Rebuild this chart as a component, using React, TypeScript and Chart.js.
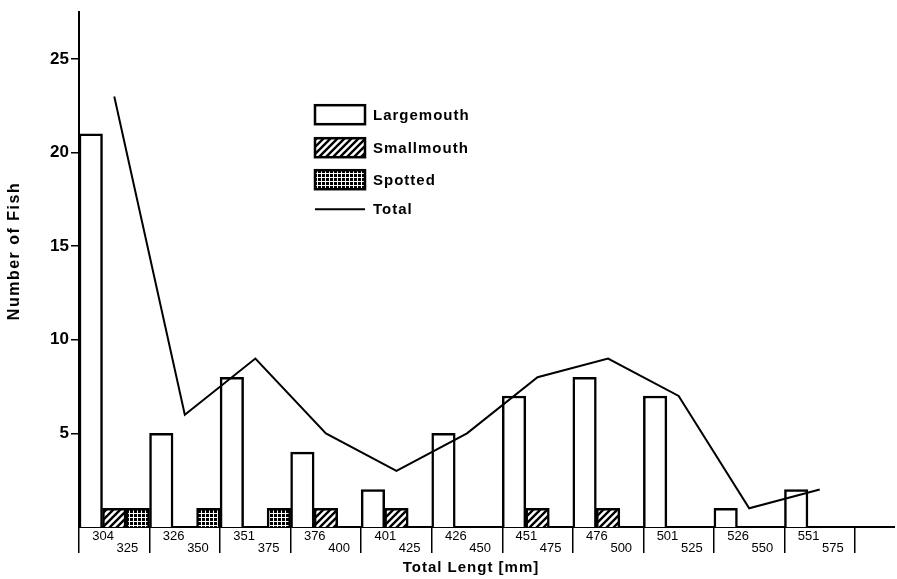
import React, { useEffect, useRef } from 'react';
import { Chart, registerables } from 'chart.js';

Chart.register(...registerables);

const lowerBounds = ['304', '326', '351', '376', '401', '426', '451', '476', '501', '526', '551'];
const upperBounds = ['325', '350', '375', '400', '425', '450', '475', '500', '525', '550', '575'];
const largemouth = [21, 5, 8, 4, 2, 5, 7, 8, 7, 1, 2];
const smallmouth = [1, 0, 0, 1, 1, 0, 1, 1, 0, 0, 0];
const spotted = [1, 1, 1, 0, 0, 0, 0, 0, 0, 0, 0];
const total = [23, 6, 9, 5, 3, 5, 8, 9, 7, 1, 2];
const yTicks = [5, 10, 15, 20, 25];
const seriesNames = ['Largemouth', 'Smallmouth', 'Spotted', 'Total'];
const xTitle = 'Total Lengt [mm]';
const yTitle = 'Number of Fish';

const FONT = '"Liberation Sans", Arial, sans-serif';

function makeHatch(): CanvasPattern {
  const s = 7;
  const c = document.createElement('canvas');
  c.width = s;
  c.height = s;
  const g = c.getContext('2d')!;
  g.fillStyle = '#fff';
  g.fillRect(0, 0, s, s);
  g.strokeStyle = '#000';
  g.lineWidth = 2.4;
  g.beginPath();
  g.moveTo(0, s);
  g.lineTo(s, 0);
  g.moveTo(-2, 2);
  g.lineTo(2, -2);
  g.moveTo(s - 2, s + 2);
  g.lineTo(s + 2, s - 2);
  g.stroke();
  return g.createPattern(c, 'repeat')!;
}

function makeGrid(): CanvasPattern {
  const s = 4;
  const c = document.createElement('canvas');
  c.width = s;
  c.height = s;
  const g = c.getContext('2d')!;
  g.fillStyle = '#000';
  g.fillRect(0, 0, s, s);
  g.fillStyle = '#fff';
  g.fillRect(0, 1, s, 1);
  g.fillRect(1, 0, 1, s);
  return g.createPattern(c, 'repeat')!;
}

export default function App() {
  const ref = useRef<HTMLCanvasElement | null>(null);

  useEffect(() => {
    const canvas = ref.current;
    if (!canvas) return;
    const hatch = makeHatch();
    const grid = makeGrid();
    const fills: (string | CanvasPattern)[] = ['#fff', hatch, grid];

    const decor = {
      id: 'decor',
      afterDraw(chart: any) {
        const ctx: CanvasRenderingContext2D = chart.ctx;
        const xs = chart.scales.x;
        const area = chart.chartArea;
        ctx.save();
        ctx.fillStyle = '#000';
        ctx.strokeStyle = '#000';

        // x axis extension
        ctx.lineWidth = 2;
        ctx.beginPath();
        ctx.moveTo(area.right, area.bottom);
        ctx.lineTo(area.right + 40, area.bottom);
        ctx.stroke();

        // staggered tick labels
        ctx.font = `13px ${FONT}`;
        ctx.textBaseline = 'middle';
        for (let i = 0; i < lowerBounds.length; i++) {
          const cx = xs.getPixelForValue(i);
          ctx.textAlign = 'left';
          ctx.fillText(lowerBounds[i], cx - 22, area.bottom + 9);
          ctx.textAlign = 'right';
          ctx.fillText(upperBounds[i], cx + 24, area.bottom + 21);
        }

        // axis titles
        ctx.font = `bold 15px ${FONT}`;
        (ctx as any).letterSpacing = '1px';
        ctx.textAlign = 'center';
        ctx.fillText(xTitle, (area.left + area.right) / 2 + 4, area.bottom + 41);
        ctx.save();
        ctx.font = `bold 16px ${FONT}`;
        (ctx as any).letterSpacing = '1.5px';
        ctx.translate(15, 251);
        ctx.rotate(-Math.PI / 2);
        ctx.fillText(yTitle, 0, 0);
        ctx.restore();

        // legend
        const lx = area.left + 236;
        const rows = [area.top + 103, area.top + 136, area.top + 168, area.top + 197];
        ctx.font = `bold 15px ${FONT}`;
        ctx.textAlign = 'left';
        ctx.lineWidth = 2.5;
        for (let k = 0; k < 3; k++) {
          ctx.fillStyle = fills[k] as any;
          ctx.fillRect(lx, rows[k] - 10, 50, 19);
          ctx.strokeRect(lx, rows[k] - 10, 50, 19);
        }
        ctx.lineWidth = 2;
        ctx.beginPath();
        ctx.moveTo(lx, rows[3]);
        ctx.lineTo(lx + 50, rows[3]);
        ctx.stroke();
        ctx.fillStyle = '#000';
        for (let k = 0; k < 4; k++) {
          ctx.fillText(seriesNames[k], lx + 58, rows[k] + 1);
        }
        ctx.restore();
      },
    };

    const chart = new Chart(canvas, {
      data: {
        labels: lowerBounds.map((l, i) => [l, upperBounds[i]]),
        datasets: [
          {
            type: 'line',
            label: seriesNames[3],
            data: total,
            borderColor: '#000',
            borderWidth: 2,
            pointRadius: 0,
            tension: 0,
            fill: false,
            order: 0,
          },
          {
            type: 'bar',
            label: seriesNames[0],
            data: largemouth,
            backgroundColor: fills[0] as any,
            borderColor: '#000',
            borderWidth: 2.5,
            order: 1,
          },
          {
            type: 'bar',
            label: seriesNames[1],
            data: smallmouth,
            backgroundColor: fills[1] as any,
            borderColor: '#000',
            borderWidth: 2.5,
            order: 1,
          },
          {
            type: 'bar',
            label: seriesNames[2],
            data: spotted,
            backgroundColor: fills[2] as any,
            borderColor: '#000',
            borderWidth: 2.5,
            order: 1,
          },
        ],
      } as any,
      options: {
        responsive: false,
        animation: false,
        layout: { padding: { top: 10, right: 42, left: 0, bottom: 0 } },
        plugins: { legend: { display: false }, tooltip: { enabled: false } },
        datasets: { bar: { categoryPercentage: 1, barPercentage: 1 } },
        scales: {
          x: {
            type: 'category',
            offset: true,
            grid: {
              offset: true,
              drawOnChartArea: false,
              drawTicks: true,
              tickLength: 26,
              color: '#000',
              lineWidth: 1.5,
            },
            border: { color: '#000', width: 2 },
            ticks: { display: false },
            afterFit: (s: any) => {
              s.height = 52;
            },
          },
          y: {
            min: 0,
            max: 27.5,
            grid: { drawOnChartArea: false, tickLength: 8, color: '#000', lineWidth: 1.5 },
            border: { color: '#000', width: 2 },
            ticks: {
              stepSize: 5,
              color: '#000',
              padding: 2,
              font: { family: FONT, weight: 'bold', size: 17 },
            },
            afterBuildTicks: (s: any) => {
              s.ticks = yTicks.map((v) => ({ value: v }));
            },
            afterFit: (s: any) => {
              s.width = 79;
            },
          },
        },
      } as any,
      plugins: [decor],
    });

    return () => chart.destroy();
  }, []);

  return (
    <div style={{ position: 'fixed', left: 0, top: 0, width: 897, height: 579, background: '#fff' }}>
      <canvas ref={ref} width={897} height={579} style={{ display: 'block' }} />
    </div>
  );
}
